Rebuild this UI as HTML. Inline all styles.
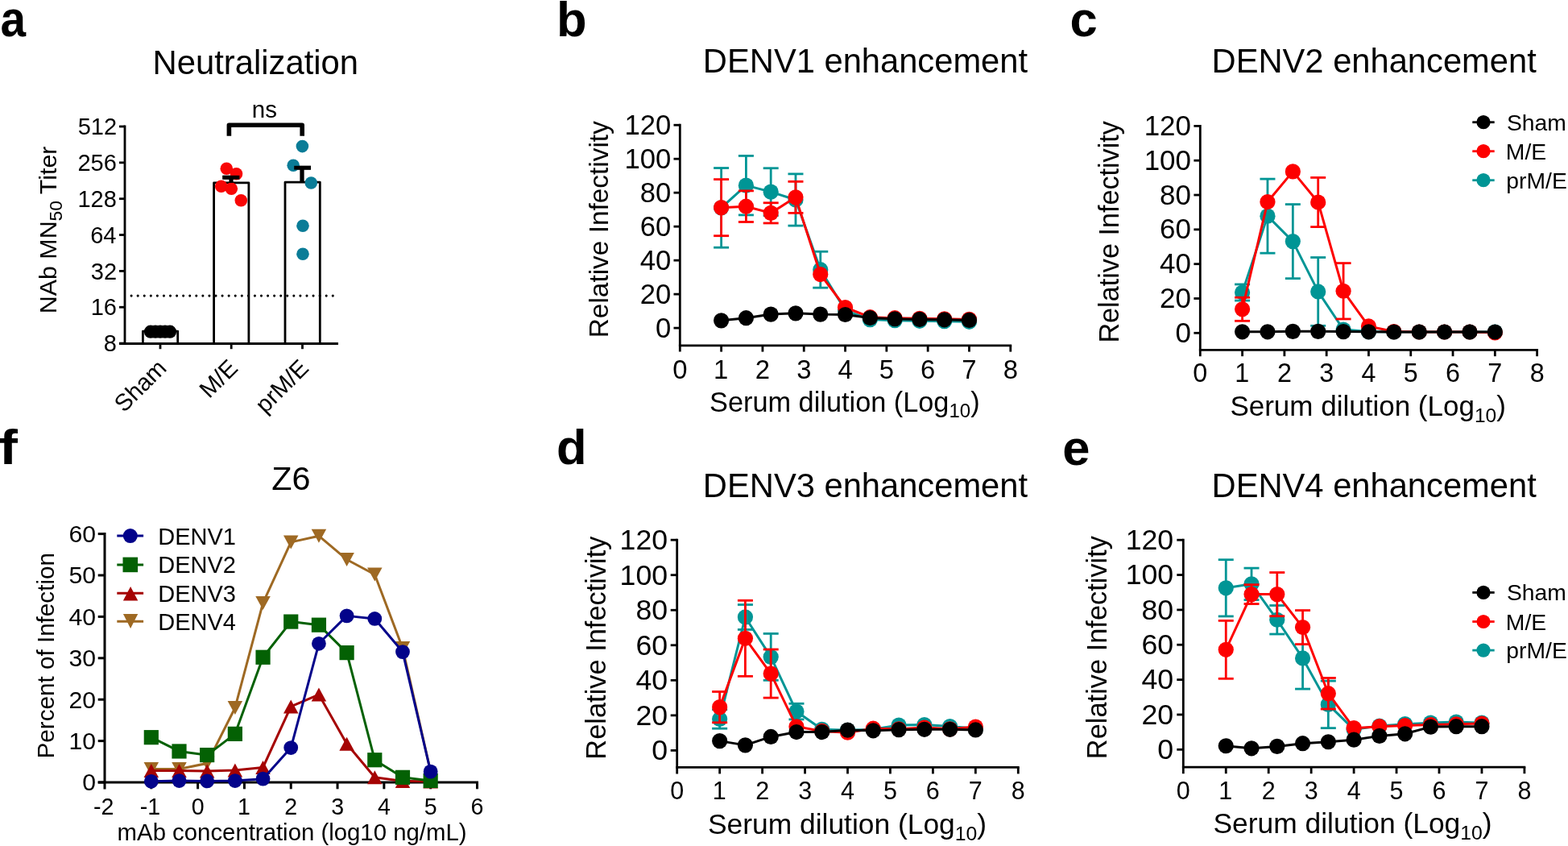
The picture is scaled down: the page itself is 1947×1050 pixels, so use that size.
<!DOCTYPE html>
<html><head><meta charset="utf-8"><style>html,body{margin:0;padding:0;background:#fff;overflow:hidden}svg{display:block}</style></head><body>
<svg width="1947" height="1050" viewBox="0 0 1947 1050" font-family="'Liberation Sans', Arial, sans-serif">
<rect width="1947" height="1050" fill="#fff"/>
<text x="0" y="0" font-size="63" font-weight="bold" transform="translate(0.6,45.4) scale(0.9,1)">a</text>
<text x="691.00" y="45.00" font-size="61.5" font-weight="bold">b</text>
<text x="1328.54" y="45.00" font-size="61.5" font-weight="bold">c</text>
<text x="691.04" y="576.00" font-size="61.5" font-weight="bold">d</text>
<text x="1319.34" y="576.50" font-size="61.5" font-weight="bold">e</text>
<text x="0" y="0" font-size="62" font-weight="bold" transform="translate(-1.2,576.4) scale(1.12,1)">f</text>
<text x="189.55" y="91.60" font-size="41.8">Neutralization</text>
<text x="872.86" y="89.60" font-size="41.7">DENV1 enhancement</text>
<text x="1504.56" y="89.60" font-size="41.7">DENV2 enhancement</text>
<text x="872.86" y="617.20" font-size="41.7">DENV3 enhancement</text>
<text x="1504.56" y="617.20" font-size="41.7">DENV4 enhancement</text>
<text x="337.26" y="608.40" font-size="41.3">Z6</text>
<line x1="155.00" y1="155.60" x2="155.00" y2="426.50" stroke="#000" stroke-width="2.8" stroke-linecap="butt"/>
<line x1="148.00" y1="426.10" x2="155.00" y2="426.10" stroke="#000" stroke-width="2.8" stroke-linecap="butt"/>
<text x="128.74" y="436.20" font-size="29.0">8</text>
<line x1="148.00" y1="381.25" x2="155.00" y2="381.25" stroke="#000" stroke-width="2.8" stroke-linecap="butt"/>
<text x="112.64" y="391.35" font-size="29.0">16</text>
<line x1="148.00" y1="336.40" x2="155.00" y2="336.40" stroke="#000" stroke-width="2.8" stroke-linecap="butt"/>
<text x="112.86" y="346.50" font-size="29.0">32</text>
<line x1="148.00" y1="291.55" x2="155.00" y2="291.55" stroke="#000" stroke-width="2.8" stroke-linecap="butt"/>
<text x="112.21" y="301.65" font-size="29.0">64</text>
<line x1="148.00" y1="246.70" x2="155.00" y2="246.70" stroke="#000" stroke-width="2.8" stroke-linecap="butt"/>
<text x="96.47" y="256.80" font-size="29.0">128</text>
<line x1="148.00" y1="201.85" x2="155.00" y2="201.85" stroke="#000" stroke-width="2.8" stroke-linecap="butt"/>
<text x="96.47" y="211.95" font-size="29.0">256</text>
<line x1="148.00" y1="157.00" x2="155.00" y2="157.00" stroke="#000" stroke-width="2.8" stroke-linecap="butt"/>
<text x="96.69" y="167.10" font-size="29.0">512</text>
<line x1="148.00" y1="426.50" x2="420.00" y2="426.50" stroke="#000" stroke-width="2.8" stroke-linecap="butt"/>
<line x1="199.00" y1="426.50" x2="199.00" y2="433.20" stroke="#000" stroke-width="2.8" stroke-linecap="butt"/>
<line x1="287.20" y1="426.50" x2="287.20" y2="433.20" stroke="#000" stroke-width="2.8" stroke-linecap="butt"/>
<line x1="375.50" y1="426.50" x2="375.50" y2="433.20" stroke="#000" stroke-width="2.8" stroke-linecap="butt"/>
<rect x="177.40" y="411.20" width="43.30" height="15.30" fill="#fff" stroke="#000" stroke-width="2.8" stroke-linejoin="round"/>
<rect x="265.60" y="226.80" width="43.30" height="199.70" fill="#fff" stroke="#000" stroke-width="2.8" stroke-linejoin="round"/>
<rect x="354.00" y="226.20" width="43.30" height="200.30" fill="#fff" stroke="#000" stroke-width="2.8" stroke-linejoin="round"/>
<line x1="163.1" y1="367.1" x2="416" y2="367.1" stroke="#000" stroke-width="3.1" stroke-linecap="round" stroke-dasharray="0 8.07"/>
<line x1="287.00" y1="226.80" x2="287.00" y2="220.20" stroke="#000" stroke-width="4.8" stroke-linecap="butt"/>
<line x1="276.40" y1="220.20" x2="297.40" y2="220.20" stroke="#000" stroke-width="4.8" stroke-linecap="butt"/>
<line x1="375.00" y1="226.20" x2="375.00" y2="208.20" stroke="#000" stroke-width="4.8" stroke-linecap="butt"/>
<line x1="365.20" y1="208.20" x2="386.00" y2="208.20" stroke="#000" stroke-width="4.8" stroke-linecap="butt"/>
<circle cx="281.30" cy="209.30" r="7.8" fill="#f80606"/>
<circle cx="293.50" cy="215.80" r="7.8" fill="#f80606"/>
<circle cx="274.70" cy="231.30" r="7.8" fill="#f80606"/>
<circle cx="287.30" cy="234.20" r="7.8" fill="#f80606"/>
<circle cx="299.30" cy="248.80" r="7.8" fill="#f80606"/>
<circle cx="375.40" cy="181.60" r="7.8" fill="#0a7c97"/>
<circle cx="364.20" cy="205.30" r="7.8" fill="#0a7c97"/>
<circle cx="386.30" cy="227.00" r="7.8" fill="#0a7c97"/>
<circle cx="376.00" cy="280.20" r="7.8" fill="#0a7c97"/>
<circle cx="376.00" cy="315.20" r="7.8" fill="#0a7c97"/>
<line x1="375.00" y1="226.20" x2="375.00" y2="208.20" stroke="#000" stroke-width="4.8" stroke-linecap="butt"/>
<line x1="365.20" y1="208.20" x2="386.00" y2="208.20" stroke="#000" stroke-width="4.8" stroke-linecap="butt"/>
<line x1="287.00" y1="226.80" x2="287.00" y2="220.20" stroke="#000" stroke-width="4.8" stroke-linecap="butt"/>
<line x1="276.40" y1="220.20" x2="297.40" y2="220.20" stroke="#000" stroke-width="4.8" stroke-linecap="butt"/>
<circle cx="187.00" cy="411.70" r="8.1" fill="#000"/>
<circle cx="193.00" cy="411.70" r="8.1" fill="#000"/>
<circle cx="199.00" cy="411.70" r="8.1" fill="#000"/>
<circle cx="205.00" cy="411.70" r="8.1" fill="#000"/>
<circle cx="211.00" cy="411.70" r="8.1" fill="#000"/>
<path d="M284.4,168.7 V155.2 H375.2 V168.7" fill="none" stroke="#000" stroke-width="5.6" stroke-linejoin="round"/>
<text x="312.81" y="145.50" font-size="29.5">ns</text>
<g transform="translate(70.0,389.21) rotate(-90)"><text x="0" y="0" font-size="30.4">NAb MN<tspan font-size="22.7" dy="6.7">50</tspan><tspan dy="-6.7"> Titer</tspan></text></g>
<text x="0" y="0" font-size="29.5" text-anchor="end" transform="translate(208.50,458.5) rotate(-45)">Sham</text>
<text x="0" y="0" font-size="29.5" text-anchor="end" transform="translate(296.80,458.5) rotate(-45)">M/E</text>
<text x="0" y="0" font-size="29.5" text-anchor="end" transform="translate(385.00,458.5) rotate(-45)">prM/E</text>
<line x1="844.30" y1="153.82" x2="844.30" y2="436.60" stroke="#000" stroke-width="2.8" stroke-linecap="butt"/>
<line x1="842.90" y1="428.80" x2="1256.18" y2="428.80" stroke="#000" stroke-width="2.8" stroke-linecap="butt"/>
<line x1="836.50" y1="407.10" x2="844.30" y2="407.10" stroke="#000" stroke-width="2.8" stroke-linecap="butt"/>
<text x="813.98" y="418.59" font-size="34.632">0</text>
<line x1="836.50" y1="365.12" x2="844.30" y2="365.12" stroke="#000" stroke-width="2.8" stroke-linecap="butt"/>
<text x="794.76" y="376.61" font-size="34.632">20</text>
<line x1="836.50" y1="323.14" x2="844.30" y2="323.14" stroke="#000" stroke-width="2.8" stroke-linecap="butt"/>
<text x="794.76" y="334.63" font-size="34.632">40</text>
<line x1="836.50" y1="281.16" x2="844.30" y2="281.16" stroke="#000" stroke-width="2.8" stroke-linecap="butt"/>
<text x="794.76" y="292.65" font-size="34.632">60</text>
<line x1="836.50" y1="239.18" x2="844.30" y2="239.18" stroke="#000" stroke-width="2.8" stroke-linecap="butt"/>
<text x="794.76" y="250.67" font-size="34.632">80</text>
<line x1="836.50" y1="197.20" x2="844.30" y2="197.20" stroke="#000" stroke-width="2.8" stroke-linecap="butt"/>
<text x="775.45" y="208.69" font-size="34.632">100</text>
<line x1="836.50" y1="155.22" x2="844.30" y2="155.22" stroke="#000" stroke-width="2.8" stroke-linecap="butt"/>
<text x="775.45" y="166.71" font-size="34.632">120</text>
<line x1="895.61" y1="428.80" x2="895.61" y2="436.60" stroke="#000" stroke-width="2.8" stroke-linecap="butt"/>
<line x1="946.92" y1="428.80" x2="946.92" y2="436.60" stroke="#000" stroke-width="2.8" stroke-linecap="butt"/>
<line x1="998.23" y1="428.80" x2="998.23" y2="436.60" stroke="#000" stroke-width="2.8" stroke-linecap="butt"/>
<line x1="1049.54" y1="428.80" x2="1049.54" y2="436.60" stroke="#000" stroke-width="2.8" stroke-linecap="butt"/>
<line x1="1100.85" y1="428.80" x2="1100.85" y2="436.60" stroke="#000" stroke-width="2.8" stroke-linecap="butt"/>
<line x1="1152.16" y1="428.80" x2="1152.16" y2="436.60" stroke="#000" stroke-width="2.8" stroke-linecap="butt"/>
<line x1="1203.47" y1="428.80" x2="1203.47" y2="436.60" stroke="#000" stroke-width="2.8" stroke-linecap="butt"/>
<line x1="1254.78" y1="428.80" x2="1254.78" y2="436.60" stroke="#000" stroke-width="2.8" stroke-linecap="butt"/>
<text x="835.16" y="470.30" font-size="32.8">0</text>
<text x="886.06" y="470.30" font-size="32.8">1</text>
<text x="937.82" y="470.30" font-size="32.8">2</text>
<text x="989.21" y="470.30" font-size="32.8">3</text>
<text x="1040.52" y="470.30" font-size="32.8">4</text>
<text x="1091.75" y="470.30" font-size="32.8">5</text>
<text x="1142.93" y="470.30" font-size="32.8">6</text>
<text x="1194.33" y="470.30" font-size="32.8">7</text>
<text x="1245.68" y="470.30" font-size="32.8">8</text>
<line x1="895.61" y1="208.53" x2="895.61" y2="307.19" stroke="#009595" stroke-width="2.8" stroke-linecap="butt"/>
<line x1="886.11" y1="208.53" x2="905.11" y2="208.53" stroke="#009595" stroke-width="2.8" stroke-linecap="butt"/>
<line x1="886.11" y1="307.19" x2="905.11" y2="307.19" stroke="#009595" stroke-width="2.8" stroke-linecap="butt"/>
<line x1="926.40" y1="193.42" x2="926.40" y2="266.89" stroke="#009595" stroke-width="2.8" stroke-linecap="butt"/>
<line x1="916.90" y1="193.42" x2="935.90" y2="193.42" stroke="#009595" stroke-width="2.8" stroke-linecap="butt"/>
<line x1="916.90" y1="266.89" x2="935.90" y2="266.89" stroke="#009595" stroke-width="2.8" stroke-linecap="butt"/>
<line x1="957.18" y1="208.74" x2="957.18" y2="267.52" stroke="#009595" stroke-width="2.8" stroke-linecap="butt"/>
<line x1="947.68" y1="208.74" x2="966.68" y2="208.74" stroke="#009595" stroke-width="2.8" stroke-linecap="butt"/>
<line x1="947.68" y1="267.52" x2="966.68" y2="267.52" stroke="#009595" stroke-width="2.8" stroke-linecap="butt"/>
<line x1="987.97" y1="215.88" x2="987.97" y2="280.11" stroke="#009595" stroke-width="2.8" stroke-linecap="butt"/>
<line x1="978.47" y1="215.88" x2="997.47" y2="215.88" stroke="#009595" stroke-width="2.8" stroke-linecap="butt"/>
<line x1="978.47" y1="280.11" x2="997.47" y2="280.11" stroke="#009595" stroke-width="2.8" stroke-linecap="butt"/>
<line x1="1018.75" y1="312.23" x2="1018.75" y2="357.14" stroke="#009595" stroke-width="2.8" stroke-linecap="butt"/>
<line x1="1009.25" y1="312.23" x2="1028.25" y2="312.23" stroke="#009595" stroke-width="2.8" stroke-linecap="butt"/>
<line x1="1009.25" y1="357.14" x2="1028.25" y2="357.14" stroke="#009595" stroke-width="2.8" stroke-linecap="butt"/>
<polyline points="895.61,257.86 926.40,230.15 957.18,238.13 987.97,248.00 1018.75,334.68 1049.54,385.06 1080.33,396.61 1111.11,397.65 1141.90,398.28 1172.68,398.70 1203.47,399.33" fill="none" stroke="#009595" stroke-width="3" stroke-linejoin="round"/>
<circle cx="895.61" cy="257.86" r="9.6" fill="#009595"/>
<circle cx="926.40" cy="230.15" r="9.6" fill="#009595"/>
<circle cx="957.18" cy="238.13" r="9.6" fill="#009595"/>
<circle cx="987.97" cy="248.00" r="9.6" fill="#009595"/>
<circle cx="1018.75" cy="334.68" r="9.6" fill="#009595"/>
<circle cx="1049.54" cy="385.06" r="9.6" fill="#009595"/>
<circle cx="1080.33" cy="396.61" r="9.6" fill="#009595"/>
<circle cx="1111.11" cy="397.65" r="9.6" fill="#009595"/>
<circle cx="1141.90" cy="398.28" r="9.6" fill="#009595"/>
<circle cx="1172.68" cy="398.70" r="9.6" fill="#009595"/>
<circle cx="1203.47" cy="399.33" r="9.6" fill="#009595"/>
<line x1="895.61" y1="222.60" x2="895.61" y2="292.70" stroke="#fd0000" stroke-width="2.8" stroke-linecap="butt"/>
<line x1="886.11" y1="222.60" x2="905.11" y2="222.60" stroke="#fd0000" stroke-width="2.8" stroke-linecap="butt"/>
<line x1="886.11" y1="292.70" x2="905.11" y2="292.70" stroke="#fd0000" stroke-width="2.8" stroke-linecap="butt"/>
<line x1="926.40" y1="236.87" x2="926.40" y2="275.49" stroke="#fd0000" stroke-width="2.8" stroke-linecap="butt"/>
<line x1="916.90" y1="236.87" x2="935.90" y2="236.87" stroke="#fd0000" stroke-width="2.8" stroke-linecap="butt"/>
<line x1="916.90" y1="275.49" x2="935.90" y2="275.49" stroke="#fd0000" stroke-width="2.8" stroke-linecap="butt"/>
<line x1="957.18" y1="251.77" x2="957.18" y2="276.96" stroke="#fd0000" stroke-width="2.8" stroke-linecap="butt"/>
<line x1="947.68" y1="251.77" x2="966.68" y2="251.77" stroke="#fd0000" stroke-width="2.8" stroke-linecap="butt"/>
<line x1="947.68" y1="276.96" x2="966.68" y2="276.96" stroke="#fd0000" stroke-width="2.8" stroke-linecap="butt"/>
<line x1="987.97" y1="225.33" x2="987.97" y2="264.37" stroke="#fd0000" stroke-width="2.8" stroke-linecap="butt"/>
<line x1="978.47" y1="225.33" x2="997.47" y2="225.33" stroke="#fd0000" stroke-width="2.8" stroke-linecap="butt"/>
<line x1="978.47" y1="264.37" x2="997.47" y2="264.37" stroke="#fd0000" stroke-width="2.8" stroke-linecap="butt"/>
<polyline points="895.61,257.65 926.40,256.18 957.18,264.37 987.97,244.85 1018.75,340.56 1049.54,381.49 1080.33,393.67 1111.11,394.72 1141.90,395.35 1172.68,395.77 1203.47,396.40" fill="none" stroke="#fd0000" stroke-width="3" stroke-linejoin="round"/>
<circle cx="895.61" cy="257.65" r="9.6" fill="#fd0000"/>
<circle cx="926.40" cy="256.18" r="9.6" fill="#fd0000"/>
<circle cx="957.18" cy="264.37" r="9.6" fill="#fd0000"/>
<circle cx="987.97" cy="244.85" r="9.6" fill="#fd0000"/>
<circle cx="1018.75" cy="340.56" r="9.6" fill="#fd0000"/>
<circle cx="1049.54" cy="381.49" r="9.6" fill="#fd0000"/>
<circle cx="1080.33" cy="393.67" r="9.6" fill="#fd0000"/>
<circle cx="1111.11" cy="394.72" r="9.6" fill="#fd0000"/>
<circle cx="1141.90" cy="395.35" r="9.6" fill="#fd0000"/>
<circle cx="1172.68" cy="395.77" r="9.6" fill="#fd0000"/>
<circle cx="1203.47" cy="396.40" r="9.6" fill="#fd0000"/>
<polyline points="895.61,397.86 926.40,394.72 957.18,390.10 987.97,388.84 1018.75,390.10 1049.54,390.52 1080.33,394.51 1111.11,395.77 1141.90,396.40 1172.68,396.81 1203.47,397.44" fill="none" stroke="#000000" stroke-width="3" stroke-linejoin="round"/>
<circle cx="895.61" cy="397.86" r="9.6" fill="#000000"/>
<circle cx="926.40" cy="394.72" r="9.6" fill="#000000"/>
<circle cx="957.18" cy="390.10" r="9.6" fill="#000000"/>
<circle cx="987.97" cy="388.84" r="9.6" fill="#000000"/>
<circle cx="1018.75" cy="390.10" r="9.6" fill="#000000"/>
<circle cx="1049.54" cy="390.52" r="9.6" fill="#000000"/>
<circle cx="1080.33" cy="394.51" r="9.6" fill="#000000"/>
<circle cx="1111.11" cy="395.77" r="9.6" fill="#000000"/>
<circle cx="1141.90" cy="396.40" r="9.6" fill="#000000"/>
<circle cx="1172.68" cy="396.81" r="9.6" fill="#000000"/>
<circle cx="1203.47" cy="397.44" r="9.6" fill="#000000"/>
<line x1="1490.30" y1="154.98" x2="1490.30" y2="442.20" stroke="#000" stroke-width="2.8" stroke-linecap="butt"/>
<line x1="1488.90" y1="434.30" x2="1910.02" y2="434.30" stroke="#000" stroke-width="2.8" stroke-linecap="butt"/>
<line x1="1482.40" y1="413.30" x2="1490.30" y2="413.30" stroke="#000" stroke-width="2.8" stroke-linecap="butt"/>
<text x="1459.52" y="424.89" font-size="34.944">0</text>
<line x1="1482.40" y1="370.48" x2="1490.30" y2="370.48" stroke="#000" stroke-width="2.8" stroke-linecap="butt"/>
<text x="1440.12" y="382.07" font-size="34.944">20</text>
<line x1="1482.40" y1="327.66" x2="1490.30" y2="327.66" stroke="#000" stroke-width="2.8" stroke-linecap="butt"/>
<text x="1440.12" y="339.25" font-size="34.944">40</text>
<line x1="1482.40" y1="284.84" x2="1490.30" y2="284.84" stroke="#000" stroke-width="2.8" stroke-linecap="butt"/>
<text x="1440.12" y="296.43" font-size="34.944">60</text>
<line x1="1482.40" y1="242.02" x2="1490.30" y2="242.02" stroke="#000" stroke-width="2.8" stroke-linecap="butt"/>
<text x="1440.12" y="253.61" font-size="34.944">80</text>
<line x1="1482.40" y1="199.20" x2="1490.30" y2="199.20" stroke="#000" stroke-width="2.8" stroke-linecap="butt"/>
<text x="1420.64" y="210.79" font-size="34.944">100</text>
<line x1="1482.40" y1="156.38" x2="1490.30" y2="156.38" stroke="#000" stroke-width="2.8" stroke-linecap="butt"/>
<text x="1420.64" y="167.97" font-size="34.944">120</text>
<line x1="1542.59" y1="434.30" x2="1542.59" y2="442.20" stroke="#000" stroke-width="2.8" stroke-linecap="butt"/>
<line x1="1594.88" y1="434.30" x2="1594.88" y2="442.20" stroke="#000" stroke-width="2.8" stroke-linecap="butt"/>
<line x1="1647.17" y1="434.30" x2="1647.17" y2="442.20" stroke="#000" stroke-width="2.8" stroke-linecap="butt"/>
<line x1="1699.46" y1="434.30" x2="1699.46" y2="442.20" stroke="#000" stroke-width="2.8" stroke-linecap="butt"/>
<line x1="1751.75" y1="434.30" x2="1751.75" y2="442.20" stroke="#000" stroke-width="2.8" stroke-linecap="butt"/>
<line x1="1804.04" y1="434.30" x2="1804.04" y2="442.20" stroke="#000" stroke-width="2.8" stroke-linecap="butt"/>
<line x1="1856.33" y1="434.30" x2="1856.33" y2="442.20" stroke="#000" stroke-width="2.8" stroke-linecap="butt"/>
<line x1="1908.62" y1="434.30" x2="1908.62" y2="442.20" stroke="#000" stroke-width="2.8" stroke-linecap="butt"/>
<text x="1481.30" y="474.00" font-size="32.3">0</text>
<text x="1533.18" y="474.00" font-size="32.3">1</text>
<text x="1585.92" y="474.00" font-size="32.3">2</text>
<text x="1638.29" y="474.00" font-size="32.3">3</text>
<text x="1690.58" y="474.00" font-size="32.3">4</text>
<text x="1742.79" y="474.00" font-size="32.3">5</text>
<text x="1794.96" y="474.00" font-size="32.3">6</text>
<text x="1847.33" y="474.00" font-size="32.3">7</text>
<text x="1899.66" y="474.00" font-size="32.3">8</text>
<line x1="1542.59" y1="352.92" x2="1542.59" y2="373.05" stroke="#009595" stroke-width="2.8" stroke-linecap="butt"/>
<line x1="1533.09" y1="352.92" x2="1552.09" y2="352.92" stroke="#009595" stroke-width="2.8" stroke-linecap="butt"/>
<line x1="1533.09" y1="373.05" x2="1552.09" y2="373.05" stroke="#009595" stroke-width="2.8" stroke-linecap="butt"/>
<line x1="1573.96" y1="222.11" x2="1573.96" y2="314.17" stroke="#009595" stroke-width="2.8" stroke-linecap="butt"/>
<line x1="1564.46" y1="222.11" x2="1583.46" y2="222.11" stroke="#009595" stroke-width="2.8" stroke-linecap="butt"/>
<line x1="1564.46" y1="314.17" x2="1583.46" y2="314.17" stroke="#009595" stroke-width="2.8" stroke-linecap="butt"/>
<line x1="1605.34" y1="253.58" x2="1605.34" y2="345.64" stroke="#009595" stroke-width="2.8" stroke-linecap="butt"/>
<line x1="1595.84" y1="253.58" x2="1614.84" y2="253.58" stroke="#009595" stroke-width="2.8" stroke-linecap="butt"/>
<line x1="1595.84" y1="345.64" x2="1614.84" y2="345.64" stroke="#009595" stroke-width="2.8" stroke-linecap="butt"/>
<line x1="1636.71" y1="319.52" x2="1636.71" y2="404.31" stroke="#009595" stroke-width="2.8" stroke-linecap="butt"/>
<line x1="1627.21" y1="319.52" x2="1646.21" y2="319.52" stroke="#009595" stroke-width="2.8" stroke-linecap="butt"/>
<line x1="1627.21" y1="404.31" x2="1646.21" y2="404.31" stroke="#009595" stroke-width="2.8" stroke-linecap="butt"/>
<polyline points="1542.59,362.99 1573.96,268.14 1605.34,299.61 1636.71,361.92 1668.09,409.02 1699.46,411.59 1730.83,412.02 1762.21,412.02 1793.58,412.02 1824.96,412.02 1856.33,412.02" fill="none" stroke="#009595" stroke-width="3" stroke-linejoin="round"/>
<circle cx="1542.59" cy="362.99" r="9.6" fill="#009595"/>
<circle cx="1573.96" cy="268.14" r="9.6" fill="#009595"/>
<circle cx="1605.34" cy="299.61" r="9.6" fill="#009595"/>
<circle cx="1636.71" cy="361.92" r="9.6" fill="#009595"/>
<circle cx="1668.09" cy="409.02" r="9.6" fill="#009595"/>
<circle cx="1699.46" cy="411.59" r="9.6" fill="#009595"/>
<circle cx="1730.83" cy="412.02" r="9.6" fill="#009595"/>
<circle cx="1762.21" cy="412.02" r="9.6" fill="#009595"/>
<circle cx="1793.58" cy="412.02" r="9.6" fill="#009595"/>
<circle cx="1824.96" cy="412.02" r="9.6" fill="#009595"/>
<circle cx="1856.33" cy="412.02" r="9.6" fill="#009595"/>
<line x1="1542.59" y1="369.20" x2="1542.59" y2="398.31" stroke="#fd0000" stroke-width="2.8" stroke-linecap="butt"/>
<line x1="1533.09" y1="369.20" x2="1552.09" y2="369.20" stroke="#fd0000" stroke-width="2.8" stroke-linecap="butt"/>
<line x1="1533.09" y1="398.31" x2="1552.09" y2="398.31" stroke="#fd0000" stroke-width="2.8" stroke-linecap="butt"/>
<line x1="1636.71" y1="220.40" x2="1636.71" y2="281.63" stroke="#fd0000" stroke-width="2.8" stroke-linecap="butt"/>
<line x1="1627.21" y1="220.40" x2="1646.21" y2="220.40" stroke="#fd0000" stroke-width="2.8" stroke-linecap="butt"/>
<line x1="1627.21" y1="281.63" x2="1646.21" y2="281.63" stroke="#fd0000" stroke-width="2.8" stroke-linecap="butt"/>
<line x1="1668.09" y1="326.59" x2="1668.09" y2="395.96" stroke="#fd0000" stroke-width="2.8" stroke-linecap="butt"/>
<line x1="1658.59" y1="326.59" x2="1677.59" y2="326.59" stroke="#fd0000" stroke-width="2.8" stroke-linecap="butt"/>
<line x1="1658.59" y1="395.96" x2="1677.59" y2="395.96" stroke="#fd0000" stroke-width="2.8" stroke-linecap="butt"/>
<polyline points="1542.59,383.75 1573.96,250.58 1605.34,212.90 1636.71,251.01 1668.09,361.27 1699.46,404.95 1730.83,411.59 1762.21,412.02 1793.58,412.02 1824.96,412.02 1856.33,412.87" fill="none" stroke="#fd0000" stroke-width="3" stroke-linejoin="round"/>
<circle cx="1542.59" cy="383.75" r="9.6" fill="#fd0000"/>
<circle cx="1573.96" cy="250.58" r="9.6" fill="#fd0000"/>
<circle cx="1605.34" cy="212.90" r="9.6" fill="#fd0000"/>
<circle cx="1636.71" cy="251.01" r="9.6" fill="#fd0000"/>
<circle cx="1668.09" cy="361.27" r="9.6" fill="#fd0000"/>
<circle cx="1699.46" cy="404.95" r="9.6" fill="#fd0000"/>
<circle cx="1730.83" cy="411.59" r="9.6" fill="#fd0000"/>
<circle cx="1762.21" cy="412.02" r="9.6" fill="#fd0000"/>
<circle cx="1793.58" cy="412.02" r="9.6" fill="#fd0000"/>
<circle cx="1824.96" cy="412.02" r="9.6" fill="#fd0000"/>
<circle cx="1856.33" cy="412.87" r="9.6" fill="#fd0000"/>
<polyline points="1542.59,411.80 1573.96,411.80 1605.34,411.37 1636.71,411.37 1668.09,411.59 1699.46,411.80 1730.83,412.02 1762.21,412.02 1793.58,412.02 1824.96,412.02 1856.33,412.02" fill="none" stroke="#000000" stroke-width="3" stroke-linejoin="round"/>
<circle cx="1542.59" cy="411.80" r="9.6" fill="#000000"/>
<circle cx="1573.96" cy="411.80" r="9.6" fill="#000000"/>
<circle cx="1605.34" cy="411.37" r="9.6" fill="#000000"/>
<circle cx="1636.71" cy="411.37" r="9.6" fill="#000000"/>
<circle cx="1668.09" cy="411.59" r="9.6" fill="#000000"/>
<circle cx="1699.46" cy="411.80" r="9.6" fill="#000000"/>
<circle cx="1730.83" cy="412.02" r="9.6" fill="#000000"/>
<circle cx="1762.21" cy="412.02" r="9.6" fill="#000000"/>
<circle cx="1793.58" cy="412.02" r="9.6" fill="#000000"/>
<circle cx="1824.96" cy="412.02" r="9.6" fill="#000000"/>
<circle cx="1856.33" cy="412.02" r="9.6" fill="#000000"/>
<line x1="840.70" y1="668.76" x2="840.70" y2="960.40" stroke="#000" stroke-width="2.8" stroke-linecap="butt"/>
<line x1="839.30" y1="952.40" x2="1265.70" y2="952.40" stroke="#000" stroke-width="2.8" stroke-linecap="butt"/>
<line x1="832.70" y1="931.40" x2="840.70" y2="931.40" stroke="#000" stroke-width="2.8" stroke-linecap="butt"/>
<text x="809.24" y="943.23" font-size="35.672">0</text>
<line x1="832.70" y1="887.86" x2="840.70" y2="887.86" stroke="#000" stroke-width="2.8" stroke-linecap="butt"/>
<text x="789.44" y="899.69" font-size="35.672">20</text>
<line x1="832.70" y1="844.32" x2="840.70" y2="844.32" stroke="#000" stroke-width="2.8" stroke-linecap="butt"/>
<text x="789.44" y="856.15" font-size="35.672">40</text>
<line x1="832.70" y1="800.78" x2="840.70" y2="800.78" stroke="#000" stroke-width="2.8" stroke-linecap="butt"/>
<text x="789.44" y="812.61" font-size="35.672">60</text>
<line x1="832.70" y1="757.24" x2="840.70" y2="757.24" stroke="#000" stroke-width="2.8" stroke-linecap="butt"/>
<text x="789.44" y="769.07" font-size="35.672">80</text>
<line x1="832.70" y1="713.70" x2="840.70" y2="713.70" stroke="#000" stroke-width="2.8" stroke-linecap="butt"/>
<text x="769.55" y="725.53" font-size="35.672">100</text>
<line x1="832.70" y1="670.16" x2="840.70" y2="670.16" stroke="#000" stroke-width="2.8" stroke-linecap="butt"/>
<text x="769.55" y="681.99" font-size="35.672">120</text>
<line x1="893.65" y1="952.40" x2="893.65" y2="960.40" stroke="#000" stroke-width="2.8" stroke-linecap="butt"/>
<line x1="946.60" y1="952.40" x2="946.60" y2="960.40" stroke="#000" stroke-width="2.8" stroke-linecap="butt"/>
<line x1="999.55" y1="952.40" x2="999.55" y2="960.40" stroke="#000" stroke-width="2.8" stroke-linecap="butt"/>
<line x1="1052.50" y1="952.40" x2="1052.50" y2="960.40" stroke="#000" stroke-width="2.8" stroke-linecap="butt"/>
<line x1="1105.45" y1="952.40" x2="1105.45" y2="960.40" stroke="#000" stroke-width="2.8" stroke-linecap="butt"/>
<line x1="1158.40" y1="952.40" x2="1158.40" y2="960.40" stroke="#000" stroke-width="2.8" stroke-linecap="butt"/>
<line x1="1211.35" y1="952.40" x2="1211.35" y2="960.40" stroke="#000" stroke-width="2.8" stroke-linecap="butt"/>
<line x1="1264.30" y1="952.40" x2="1264.30" y2="960.40" stroke="#000" stroke-width="2.8" stroke-linecap="butt"/>
<text x="832.20" y="992.20" font-size="30.5">0</text>
<text x="884.77" y="992.20" font-size="30.5">1</text>
<text x="938.14" y="992.20" font-size="30.5">2</text>
<text x="991.16" y="992.20" font-size="30.5">3</text>
<text x="1044.11" y="992.20" font-size="30.5">4</text>
<text x="1096.99" y="992.20" font-size="30.5">5</text>
<text x="1149.82" y="992.20" font-size="30.5">6</text>
<text x="1202.85" y="992.20" font-size="30.5">7</text>
<text x="1255.84" y="992.20" font-size="30.5">8</text>
<line x1="893.65" y1="880.68" x2="893.65" y2="904.19" stroke="#009595" stroke-width="2.8" stroke-linecap="butt"/>
<line x1="884.15" y1="880.68" x2="903.15" y2="880.68" stroke="#009595" stroke-width="2.8" stroke-linecap="butt"/>
<line x1="884.15" y1="904.19" x2="903.15" y2="904.19" stroke="#009595" stroke-width="2.8" stroke-linecap="butt"/>
<line x1="925.42" y1="750.49" x2="925.42" y2="781.40" stroke="#009595" stroke-width="2.8" stroke-linecap="butt"/>
<line x1="915.92" y1="750.49" x2="934.92" y2="750.49" stroke="#009595" stroke-width="2.8" stroke-linecap="butt"/>
<line x1="915.92" y1="781.40" x2="934.92" y2="781.40" stroke="#009595" stroke-width="2.8" stroke-linecap="butt"/>
<line x1="957.19" y1="786.41" x2="957.19" y2="844.32" stroke="#009595" stroke-width="2.8" stroke-linecap="butt"/>
<line x1="947.69" y1="786.41" x2="966.69" y2="786.41" stroke="#009595" stroke-width="2.8" stroke-linecap="butt"/>
<line x1="947.69" y1="844.32" x2="966.69" y2="844.32" stroke="#009595" stroke-width="2.8" stroke-linecap="butt"/>
<line x1="988.96" y1="873.27" x2="988.96" y2="892.87" stroke="#009595" stroke-width="2.8" stroke-linecap="butt"/>
<line x1="979.46" y1="873.27" x2="998.46" y2="873.27" stroke="#009595" stroke-width="2.8" stroke-linecap="butt"/>
<line x1="979.46" y1="892.87" x2="998.46" y2="892.87" stroke="#009595" stroke-width="2.8" stroke-linecap="butt"/>
<polyline points="893.65,892.43 925.42,765.95 957.19,815.37 988.96,883.07 1020.73,905.28 1052.50,906.36 1084.27,905.28 1116.04,900.05 1147.81,899.62 1179.58,901.58 1211.35,904.19" fill="none" stroke="#009595" stroke-width="3" stroke-linejoin="round"/>
<circle cx="893.65" cy="892.43" r="9.6" fill="#009595"/>
<circle cx="925.42" cy="765.95" r="9.6" fill="#009595"/>
<circle cx="957.19" cy="815.37" r="9.6" fill="#009595"/>
<circle cx="988.96" cy="883.07" r="9.6" fill="#009595"/>
<circle cx="1020.73" cy="905.28" r="9.6" fill="#009595"/>
<circle cx="1052.50" cy="906.36" r="9.6" fill="#009595"/>
<circle cx="1084.27" cy="905.28" r="9.6" fill="#009595"/>
<circle cx="1116.04" cy="900.05" r="9.6" fill="#009595"/>
<circle cx="1147.81" cy="899.62" r="9.6" fill="#009595"/>
<circle cx="1179.58" cy="901.58" r="9.6" fill="#009595"/>
<circle cx="1211.35" cy="904.19" r="9.6" fill="#009595"/>
<line x1="893.65" y1="858.47" x2="893.65" y2="896.79" stroke="#fd0000" stroke-width="2.8" stroke-linecap="butt"/>
<line x1="884.15" y1="858.47" x2="903.15" y2="858.47" stroke="#fd0000" stroke-width="2.8" stroke-linecap="butt"/>
<line x1="884.15" y1="896.79" x2="903.15" y2="896.79" stroke="#fd0000" stroke-width="2.8" stroke-linecap="butt"/>
<line x1="925.42" y1="745.27" x2="925.42" y2="839.31" stroke="#fd0000" stroke-width="2.8" stroke-linecap="butt"/>
<line x1="915.92" y1="745.27" x2="934.92" y2="745.27" stroke="#fd0000" stroke-width="2.8" stroke-linecap="butt"/>
<line x1="915.92" y1="839.31" x2="934.92" y2="839.31" stroke="#fd0000" stroke-width="2.8" stroke-linecap="butt"/>
<line x1="957.19" y1="806.00" x2="957.19" y2="866.09" stroke="#fd0000" stroke-width="2.8" stroke-linecap="butt"/>
<line x1="947.69" y1="806.00" x2="966.69" y2="806.00" stroke="#fd0000" stroke-width="2.8" stroke-linecap="butt"/>
<line x1="947.69" y1="866.09" x2="966.69" y2="866.09" stroke="#fd0000" stroke-width="2.8" stroke-linecap="butt"/>
<polyline points="893.65,877.63 925.42,792.29 957.19,836.05 988.96,901.79 1020.73,907.45 1052.50,909.19 1084.27,904.19 1116.04,904.84 1147.81,903.10 1179.58,904.84 1211.35,902.01" fill="none" stroke="#fd0000" stroke-width="3" stroke-linejoin="round"/>
<circle cx="893.65" cy="877.63" r="9.6" fill="#fd0000"/>
<circle cx="925.42" cy="792.29" r="9.6" fill="#fd0000"/>
<circle cx="957.19" cy="836.05" r="9.6" fill="#fd0000"/>
<circle cx="988.96" cy="901.79" r="9.6" fill="#fd0000"/>
<circle cx="1020.73" cy="907.45" r="9.6" fill="#fd0000"/>
<circle cx="1052.50" cy="909.19" r="9.6" fill="#fd0000"/>
<circle cx="1084.27" cy="904.19" r="9.6" fill="#fd0000"/>
<circle cx="1116.04" cy="904.84" r="9.6" fill="#fd0000"/>
<circle cx="1147.81" cy="903.10" r="9.6" fill="#fd0000"/>
<circle cx="1179.58" cy="904.84" r="9.6" fill="#fd0000"/>
<circle cx="1211.35" cy="902.01" r="9.6" fill="#fd0000"/>
<polyline points="893.65,919.64 925.42,924.87 957.19,914.42 988.96,908.54 1020.73,908.54 1052.50,906.15 1084.27,906.80 1116.04,905.71 1147.81,905.28 1179.58,905.28 1211.35,905.93" fill="none" stroke="#000000" stroke-width="3" stroke-linejoin="round"/>
<circle cx="893.65" cy="919.64" r="9.6" fill="#000000"/>
<circle cx="925.42" cy="924.87" r="9.6" fill="#000000"/>
<circle cx="957.19" cy="914.42" r="9.6" fill="#000000"/>
<circle cx="988.96" cy="908.54" r="9.6" fill="#000000"/>
<circle cx="1020.73" cy="908.54" r="9.6" fill="#000000"/>
<circle cx="1052.50" cy="906.15" r="9.6" fill="#000000"/>
<circle cx="1084.27" cy="906.80" r="9.6" fill="#000000"/>
<circle cx="1116.04" cy="905.71" r="9.6" fill="#000000"/>
<circle cx="1147.81" cy="905.28" r="9.6" fill="#000000"/>
<circle cx="1179.58" cy="905.28" r="9.6" fill="#000000"/>
<circle cx="1211.35" cy="905.93" r="9.6" fill="#000000"/>
<line x1="1469.30" y1="668.80" x2="1469.30" y2="960.20" stroke="#000" stroke-width="2.8" stroke-linecap="butt"/>
<line x1="1467.90" y1="952.20" x2="1894.30" y2="952.20" stroke="#000" stroke-width="2.8" stroke-linecap="butt"/>
<line x1="1461.30" y1="930.30" x2="1469.30" y2="930.30" stroke="#000" stroke-width="2.8" stroke-linecap="butt"/>
<text x="1437.34" y="942.13" font-size="35.672">0</text>
<line x1="1461.30" y1="886.95" x2="1469.30" y2="886.95" stroke="#000" stroke-width="2.8" stroke-linecap="butt"/>
<text x="1417.54" y="898.78" font-size="35.672">20</text>
<line x1="1461.30" y1="843.60" x2="1469.30" y2="843.60" stroke="#000" stroke-width="2.8" stroke-linecap="butt"/>
<text x="1417.54" y="855.43" font-size="35.672">40</text>
<line x1="1461.30" y1="800.25" x2="1469.30" y2="800.25" stroke="#000" stroke-width="2.8" stroke-linecap="butt"/>
<text x="1417.54" y="812.08" font-size="35.672">60</text>
<line x1="1461.30" y1="756.90" x2="1469.30" y2="756.90" stroke="#000" stroke-width="2.8" stroke-linecap="butt"/>
<text x="1417.54" y="768.73" font-size="35.672">80</text>
<line x1="1461.30" y1="713.55" x2="1469.30" y2="713.55" stroke="#000" stroke-width="2.8" stroke-linecap="butt"/>
<text x="1397.65" y="725.38" font-size="35.672">100</text>
<line x1="1461.30" y1="670.20" x2="1469.30" y2="670.20" stroke="#000" stroke-width="2.8" stroke-linecap="butt"/>
<text x="1397.65" y="682.03" font-size="35.672">120</text>
<line x1="1522.25" y1="952.20" x2="1522.25" y2="960.20" stroke="#000" stroke-width="2.8" stroke-linecap="butt"/>
<line x1="1575.20" y1="952.20" x2="1575.20" y2="960.20" stroke="#000" stroke-width="2.8" stroke-linecap="butt"/>
<line x1="1628.15" y1="952.20" x2="1628.15" y2="960.20" stroke="#000" stroke-width="2.8" stroke-linecap="butt"/>
<line x1="1681.10" y1="952.20" x2="1681.10" y2="960.20" stroke="#000" stroke-width="2.8" stroke-linecap="butt"/>
<line x1="1734.05" y1="952.20" x2="1734.05" y2="960.20" stroke="#000" stroke-width="2.8" stroke-linecap="butt"/>
<line x1="1787.00" y1="952.20" x2="1787.00" y2="960.20" stroke="#000" stroke-width="2.8" stroke-linecap="butt"/>
<line x1="1839.95" y1="952.20" x2="1839.95" y2="960.20" stroke="#000" stroke-width="2.8" stroke-linecap="butt"/>
<line x1="1892.90" y1="952.20" x2="1892.90" y2="960.20" stroke="#000" stroke-width="2.8" stroke-linecap="butt"/>
<text x="1460.80" y="991.80" font-size="30.5">0</text>
<text x="1513.37" y="991.80" font-size="30.5">1</text>
<text x="1566.74" y="991.80" font-size="30.5">2</text>
<text x="1619.76" y="991.80" font-size="30.5">3</text>
<text x="1672.71" y="991.80" font-size="30.5">4</text>
<text x="1725.59" y="991.80" font-size="30.5">5</text>
<text x="1778.42" y="991.80" font-size="30.5">6</text>
<text x="1831.45" y="991.80" font-size="30.5">7</text>
<text x="1884.44" y="991.80" font-size="30.5">8</text>
<line x1="1522.25" y1="694.69" x2="1522.25" y2="764.92" stroke="#009595" stroke-width="2.8" stroke-linecap="butt"/>
<line x1="1512.75" y1="694.69" x2="1531.75" y2="694.69" stroke="#009595" stroke-width="2.8" stroke-linecap="butt"/>
<line x1="1512.75" y1="764.92" x2="1531.75" y2="764.92" stroke="#009595" stroke-width="2.8" stroke-linecap="butt"/>
<line x1="1554.02" y1="705.10" x2="1554.02" y2="744.55" stroke="#009595" stroke-width="2.8" stroke-linecap="butt"/>
<line x1="1544.52" y1="705.10" x2="1563.52" y2="705.10" stroke="#009595" stroke-width="2.8" stroke-linecap="butt"/>
<line x1="1544.52" y1="744.55" x2="1563.52" y2="744.55" stroke="#009595" stroke-width="2.8" stroke-linecap="butt"/>
<line x1="1585.79" y1="751.48" x2="1585.79" y2="787.03" stroke="#009595" stroke-width="2.8" stroke-linecap="butt"/>
<line x1="1576.29" y1="751.48" x2="1595.29" y2="751.48" stroke="#009595" stroke-width="2.8" stroke-linecap="butt"/>
<line x1="1576.29" y1="787.03" x2="1595.29" y2="787.03" stroke="#009595" stroke-width="2.8" stroke-linecap="butt"/>
<line x1="1617.56" y1="778.79" x2="1617.56" y2="855.09" stroke="#009595" stroke-width="2.8" stroke-linecap="butt"/>
<line x1="1608.06" y1="778.79" x2="1627.06" y2="778.79" stroke="#009595" stroke-width="2.8" stroke-linecap="butt"/>
<line x1="1608.06" y1="855.09" x2="1627.06" y2="855.09" stroke="#009595" stroke-width="2.8" stroke-linecap="butt"/>
<line x1="1649.33" y1="845.12" x2="1649.33" y2="903.64" stroke="#009595" stroke-width="2.8" stroke-linecap="butt"/>
<line x1="1639.83" y1="845.12" x2="1658.83" y2="845.12" stroke="#009595" stroke-width="2.8" stroke-linecap="butt"/>
<line x1="1639.83" y1="903.64" x2="1658.83" y2="903.64" stroke="#009595" stroke-width="2.8" stroke-linecap="butt"/>
<polyline points="1522.25,729.81 1554.02,724.82 1585.79,769.25 1617.56,816.94 1649.33,874.38 1681.10,905.37 1712.87,901.04 1744.64,898.65 1776.41,897.14 1808.18,896.05 1839.95,897.14" fill="none" stroke="#009595" stroke-width="3" stroke-linejoin="round"/>
<circle cx="1522.25" cy="729.81" r="9.6" fill="#009595"/>
<circle cx="1554.02" cy="724.82" r="9.6" fill="#009595"/>
<circle cx="1585.79" cy="769.25" r="9.6" fill="#009595"/>
<circle cx="1617.56" cy="816.94" r="9.6" fill="#009595"/>
<circle cx="1649.33" cy="874.38" r="9.6" fill="#009595"/>
<circle cx="1681.10" cy="905.37" r="9.6" fill="#009595"/>
<circle cx="1712.87" cy="901.04" r="9.6" fill="#009595"/>
<circle cx="1744.64" cy="898.65" r="9.6" fill="#009595"/>
<circle cx="1776.41" cy="897.14" r="9.6" fill="#009595"/>
<circle cx="1808.18" cy="896.05" r="9.6" fill="#009595"/>
<circle cx="1839.95" cy="897.14" r="9.6" fill="#009595"/>
<line x1="1522.25" y1="770.34" x2="1522.25" y2="842.30" stroke="#fd0000" stroke-width="2.8" stroke-linecap="butt"/>
<line x1="1512.75" y1="770.34" x2="1531.75" y2="770.34" stroke="#fd0000" stroke-width="2.8" stroke-linecap="butt"/>
<line x1="1512.75" y1="842.30" x2="1531.75" y2="842.30" stroke="#fd0000" stroke-width="2.8" stroke-linecap="butt"/>
<line x1="1554.02" y1="725.69" x2="1554.02" y2="749.53" stroke="#fd0000" stroke-width="2.8" stroke-linecap="butt"/>
<line x1="1544.52" y1="725.69" x2="1563.52" y2="725.69" stroke="#fd0000" stroke-width="2.8" stroke-linecap="butt"/>
<line x1="1544.52" y1="749.53" x2="1563.52" y2="749.53" stroke="#fd0000" stroke-width="2.8" stroke-linecap="butt"/>
<line x1="1585.79" y1="710.52" x2="1585.79" y2="764.70" stroke="#fd0000" stroke-width="2.8" stroke-linecap="butt"/>
<line x1="1576.29" y1="710.52" x2="1595.29" y2="710.52" stroke="#fd0000" stroke-width="2.8" stroke-linecap="butt"/>
<line x1="1576.29" y1="764.70" x2="1595.29" y2="764.70" stroke="#fd0000" stroke-width="2.8" stroke-linecap="butt"/>
<line x1="1617.56" y1="757.55" x2="1617.56" y2="799.60" stroke="#fd0000" stroke-width="2.8" stroke-linecap="butt"/>
<line x1="1608.06" y1="757.55" x2="1627.06" y2="757.55" stroke="#fd0000" stroke-width="2.8" stroke-linecap="butt"/>
<line x1="1608.06" y1="799.60" x2="1627.06" y2="799.60" stroke="#fd0000" stroke-width="2.8" stroke-linecap="butt"/>
<line x1="1649.33" y1="841.43" x2="1649.33" y2="880.01" stroke="#fd0000" stroke-width="2.8" stroke-linecap="butt"/>
<line x1="1639.83" y1="841.43" x2="1658.83" y2="841.43" stroke="#fd0000" stroke-width="2.8" stroke-linecap="butt"/>
<line x1="1639.83" y1="880.01" x2="1658.83" y2="880.01" stroke="#fd0000" stroke-width="2.8" stroke-linecap="butt"/>
<polyline points="1522.25,806.32 1554.02,737.61 1585.79,737.61 1617.56,778.57 1649.33,860.72 1681.10,903.64 1712.87,901.69 1744.64,900.61 1776.41,899.52 1808.18,898.87 1839.95,898.00" fill="none" stroke="#fd0000" stroke-width="3" stroke-linejoin="round"/>
<circle cx="1522.25" cy="806.32" r="9.6" fill="#fd0000"/>
<circle cx="1554.02" cy="737.61" r="9.6" fill="#fd0000"/>
<circle cx="1585.79" cy="737.61" r="9.6" fill="#fd0000"/>
<circle cx="1617.56" cy="778.57" r="9.6" fill="#fd0000"/>
<circle cx="1649.33" cy="860.72" r="9.6" fill="#fd0000"/>
<circle cx="1681.10" cy="903.64" r="9.6" fill="#fd0000"/>
<circle cx="1712.87" cy="901.69" r="9.6" fill="#fd0000"/>
<circle cx="1744.64" cy="900.61" r="9.6" fill="#fd0000"/>
<circle cx="1776.41" cy="899.52" r="9.6" fill="#fd0000"/>
<circle cx="1808.18" cy="898.87" r="9.6" fill="#fd0000"/>
<circle cx="1839.95" cy="898.00" r="9.6" fill="#fd0000"/>
<polyline points="1522.25,925.75 1554.02,928.78 1585.79,926.40 1617.56,922.71 1649.33,920.76 1681.10,918.16 1712.87,913.39 1744.64,910.79 1776.41,902.12 1808.18,901.69 1839.95,901.69" fill="none" stroke="#000000" stroke-width="3" stroke-linejoin="round"/>
<circle cx="1522.25" cy="925.75" r="9.6" fill="#000000"/>
<circle cx="1554.02" cy="928.78" r="9.6" fill="#000000"/>
<circle cx="1585.79" cy="926.40" r="9.6" fill="#000000"/>
<circle cx="1617.56" cy="922.71" r="9.6" fill="#000000"/>
<circle cx="1649.33" cy="920.76" r="9.6" fill="#000000"/>
<circle cx="1681.10" cy="918.16" r="9.6" fill="#000000"/>
<circle cx="1712.87" cy="913.39" r="9.6" fill="#000000"/>
<circle cx="1744.64" cy="910.79" r="9.6" fill="#000000"/>
<circle cx="1776.41" cy="902.12" r="9.6" fill="#000000"/>
<circle cx="1808.18" cy="901.69" r="9.6" fill="#000000"/>
<circle cx="1839.95" cy="901.69" r="9.6" fill="#000000"/>
<g transform="translate(754.50,419.26) rotate(-90)"><text x="0" y="0" font-size="33.4">Relative Infectivity</text></g>
<g transform="translate(1388.50,425.62) rotate(-90)"><text x="0" y="0" font-size="34.2">Relative Infectivity</text></g>
<g transform="translate(752.00,942.64) rotate(-90)"><text x="0" y="0" font-size="34.4">Relative Infectivity</text></g>
<g transform="translate(1374.40,942.14) rotate(-90)"><text x="0" y="0" font-size="34.4">Relative Infectivity</text></g>
<text x="881.06" y="510.60" font-size="34.3">Serum dilution (Log<tspan font-size="24.01" dy="7.55">10</tspan><tspan dy="-7.55">)</tspan></text>
<text x="1527.42" y="515.80" font-size="35.0">Serum dilution (Log<tspan font-size="24.50" dy="7.70">10</tspan><tspan dy="-7.70">)</tspan></text>
<text x="878.91" y="1034.80" font-size="35.4">Serum dilution (Log<tspan font-size="24.78" dy="7.79">10</tspan><tspan dy="-7.79">)</tspan></text>
<text x="1506.41" y="1034.00" font-size="35.4">Serum dilution (Log<tspan font-size="24.78" dy="7.79">10</tspan><tspan dy="-7.79">)</tspan></text>
<line x1="1828.30" y1="151.70" x2="1855.70" y2="151.70" stroke="#000000" stroke-width="2.8" stroke-linecap="butt"/>
<circle cx="1842.00" cy="151.70" r="8.6" fill="#000000"/>
<text x="1870.93" y="161.75" font-size="28.3">Sham</text>
<line x1="1828.30" y1="187.70" x2="1855.70" y2="187.70" stroke="#fd0000" stroke-width="2.8" stroke-linecap="butt"/>
<circle cx="1842.00" cy="187.70" r="8.6" fill="#fd0000"/>
<text x="1869.87" y="197.75" font-size="28.3">M/E</text>
<line x1="1828.30" y1="223.70" x2="1855.70" y2="223.70" stroke="#009595" stroke-width="2.8" stroke-linecap="butt"/>
<circle cx="1842.00" cy="223.70" r="8.6" fill="#009595"/>
<text x="1870.36" y="233.75" font-size="28.3">prM/E</text>
<line x1="1828.30" y1="735.40" x2="1855.70" y2="735.40" stroke="#000000" stroke-width="2.8" stroke-linecap="butt"/>
<circle cx="1842.00" cy="735.40" r="8.6" fill="#000000"/>
<text x="1870.93" y="745.45" font-size="28.3">Sham</text>
<line x1="1828.30" y1="771.50" x2="1855.70" y2="771.50" stroke="#fd0000" stroke-width="2.8" stroke-linecap="butt"/>
<circle cx="1842.00" cy="771.50" r="8.6" fill="#fd0000"/>
<text x="1869.87" y="781.55" font-size="28.3">M/E</text>
<line x1="1828.30" y1="807.10" x2="1855.70" y2="807.10" stroke="#009595" stroke-width="2.8" stroke-linecap="butt"/>
<circle cx="1842.00" cy="807.10" r="8.6" fill="#009595"/>
<text x="1870.36" y="817.15" font-size="28.3">prM/E</text>
<line x1="130.00" y1="661.10" x2="130.00" y2="979.50" stroke="#000" stroke-width="3.0" stroke-linecap="butt"/>
<line x1="121.70" y1="971.00" x2="593.98" y2="971.00" stroke="#000" stroke-width="3.0" stroke-linecap="butt"/>
<line x1="121.70" y1="971.00" x2="130.00" y2="971.00" stroke="#000" stroke-width="3.0" stroke-linecap="butt"/>
<text x="102.17" y="981.35" font-size="30.2">0</text>
<line x1="121.70" y1="919.60" x2="130.00" y2="919.60" stroke="#000" stroke-width="3.0" stroke-linecap="butt"/>
<text x="85.41" y="929.95" font-size="30.2">10</text>
<line x1="121.70" y1="868.20" x2="130.00" y2="868.20" stroke="#000" stroke-width="3.0" stroke-linecap="butt"/>
<text x="85.41" y="878.55" font-size="30.2">20</text>
<line x1="121.70" y1="816.80" x2="130.00" y2="816.80" stroke="#000" stroke-width="3.0" stroke-linecap="butt"/>
<text x="85.41" y="827.15" font-size="30.2">30</text>
<line x1="121.70" y1="765.40" x2="130.00" y2="765.40" stroke="#000" stroke-width="3.0" stroke-linecap="butt"/>
<text x="85.41" y="775.75" font-size="30.2">40</text>
<line x1="121.70" y1="714.00" x2="130.00" y2="714.00" stroke="#000" stroke-width="3.0" stroke-linecap="butt"/>
<text x="85.41" y="724.35" font-size="30.2">50</text>
<line x1="121.70" y1="662.60" x2="130.00" y2="662.60" stroke="#000" stroke-width="3.0" stroke-linecap="butt"/>
<text x="85.41" y="672.95" font-size="30.2">60</text>
<line x1="187.81" y1="971.00" x2="187.81" y2="979.30" stroke="#000" stroke-width="3.0" stroke-linecap="butt"/>
<line x1="245.62" y1="971.00" x2="245.62" y2="979.30" stroke="#000" stroke-width="3.0" stroke-linecap="butt"/>
<line x1="303.43" y1="971.00" x2="303.43" y2="979.30" stroke="#000" stroke-width="3.0" stroke-linecap="butt"/>
<line x1="361.24" y1="971.00" x2="361.24" y2="979.30" stroke="#000" stroke-width="3.0" stroke-linecap="butt"/>
<line x1="419.05" y1="971.00" x2="419.05" y2="979.30" stroke="#000" stroke-width="3.0" stroke-linecap="butt"/>
<line x1="476.86" y1="971.00" x2="476.86" y2="979.30" stroke="#000" stroke-width="3.0" stroke-linecap="butt"/>
<line x1="534.67" y1="971.00" x2="534.67" y2="979.30" stroke="#000" stroke-width="3.0" stroke-linecap="butt"/>
<line x1="592.48" y1="971.00" x2="592.48" y2="979.30" stroke="#000" stroke-width="3.0" stroke-linecap="butt"/>
<text x="115.88" y="1011.00" font-size="28.6">-2</text>
<text x="173.65" y="1011.00" font-size="28.6">-1</text>
<text x="237.65" y="1011.00" font-size="28.6">0</text>
<text x="295.10" y="1011.00" font-size="28.6">1</text>
<text x="353.30" y="1011.00" font-size="28.6">2</text>
<text x="411.19" y="1011.00" font-size="28.6">3</text>
<text x="469.00" y="1011.00" font-size="28.6">4</text>
<text x="526.73" y="1011.00" font-size="28.6">5</text>
<text x="584.44" y="1011.00" font-size="28.6">6</text>
<text x="145.62" y="1043.40" font-size="29.35">mAb concentration (log10 ng/mL)</text>
<g transform="translate(67.20,941.45) rotate(-90)"><text x="0" y="0" font-size="29.65">Percent of Infection</text></g>
<polyline points="187.81,954.55 222.50,954.55 257.18,947.36 291.87,878.48 326.55,748.44 361.24,672.88 395.93,665.17 430.61,694.47 465.30,712.97 499.98,804.46 534.67,957.64" fill="none" stroke="#9e6923" stroke-width="3.0" stroke-linejoin="round"/>
<polygon points="187.81,963.05 178.56,946.05 197.06,946.05" fill="#9e6923"/>
<polygon points="222.50,963.05 213.25,946.05 231.75,946.05" fill="#9e6923"/>
<polygon points="257.18,955.86 247.93,938.86 266.43,938.86" fill="#9e6923"/>
<polygon points="291.87,886.98 282.62,869.98 301.12,869.98" fill="#9e6923"/>
<polygon points="326.55,756.94 317.30,739.94 335.80,739.94" fill="#9e6923"/>
<polygon points="361.24,681.38 351.99,664.38 370.49,664.38" fill="#9e6923"/>
<polygon points="395.93,673.67 386.68,656.67 405.18,656.67" fill="#9e6923"/>
<polygon points="430.61,702.97 421.36,685.97 439.86,685.97" fill="#9e6923"/>
<polygon points="465.30,721.47 456.05,704.47 474.55,704.47" fill="#9e6923"/>
<polygon points="499.98,812.96 490.73,795.96 509.23,795.96" fill="#9e6923"/>
<polyline points="187.81,956.61 222.50,956.61 257.18,957.12 291.87,956.09 326.55,952.50 361.24,876.94 395.93,862.03 430.61,923.20 465.30,964.83 499.98,969.46 534.67,969.97" fill="none" stroke="#a50303" stroke-width="3.0" stroke-linejoin="round"/>
<polygon points="187.81,948.11 178.56,965.11 197.06,965.11" fill="#a50303"/>
<polygon points="222.50,948.11 213.25,965.11 231.75,965.11" fill="#a50303"/>
<polygon points="257.18,948.62 247.93,965.62 266.43,965.62" fill="#a50303"/>
<polygon points="291.87,947.59 282.62,964.59 301.12,964.59" fill="#a50303"/>
<polygon points="326.55,944.00 317.30,961.00 335.80,961.00" fill="#a50303"/>
<polygon points="361.24,868.44 351.99,885.44 370.49,885.44" fill="#a50303"/>
<polygon points="395.93,853.53 386.68,870.53 405.18,870.53" fill="#a50303"/>
<polygon points="430.61,914.70 421.36,931.70 439.86,931.70" fill="#a50303"/>
<polygon points="465.30,956.33 456.05,973.33 474.55,973.33" fill="#a50303"/>
<polygon points="499.98,960.96 490.73,977.96 509.23,977.96" fill="#a50303"/>
<polygon points="534.67,961.47 525.42,978.47 543.92,978.47" fill="#a50303"/>
<polyline points="187.81,915.18 222.50,932.45 257.18,937.08 291.87,910.86 326.55,815.77 361.24,771.57 395.93,775.68 430.61,810.12 465.30,943.24 499.98,964.83 534.67,968.94" fill="none" stroke="#046104" stroke-width="3.0" stroke-linejoin="round"/>
<rect x="178.71" y="906.08" width="18.2" height="18.2" fill="#046104"/>
<rect x="213.40" y="923.35" width="18.2" height="18.2" fill="#046104"/>
<rect x="248.08" y="927.98" width="18.2" height="18.2" fill="#046104"/>
<rect x="282.77" y="901.76" width="18.2" height="18.2" fill="#046104"/>
<rect x="317.45" y="806.67" width="18.2" height="18.2" fill="#046104"/>
<rect x="352.14" y="762.47" width="18.2" height="18.2" fill="#046104"/>
<rect x="386.83" y="766.58" width="18.2" height="18.2" fill="#046104"/>
<rect x="421.51" y="801.02" width="18.2" height="18.2" fill="#046104"/>
<rect x="456.20" y="934.14" width="18.2" height="18.2" fill="#046104"/>
<rect x="490.88" y="955.73" width="18.2" height="18.2" fill="#046104"/>
<rect x="525.57" y="959.84" width="18.2" height="18.2" fill="#046104"/>
<polyline points="187.81,969.82 222.50,969.05 257.18,969.46 291.87,969.05 326.55,966.63 361.24,928.08 395.93,798.81 430.61,764.37 465.30,767.97 499.98,809.09 534.67,957.64" fill="none" stroke="#03038a" stroke-width="3.0" stroke-linejoin="round"/>
<circle cx="187.81" cy="969.82" r="8.9" fill="#03038a"/>
<circle cx="222.50" cy="969.05" r="8.9" fill="#03038a"/>
<circle cx="257.18" cy="969.46" r="8.9" fill="#03038a"/>
<circle cx="291.87" cy="969.05" r="8.9" fill="#03038a"/>
<circle cx="326.55" cy="966.63" r="8.9" fill="#03038a"/>
<circle cx="361.24" cy="928.08" r="8.9" fill="#03038a"/>
<circle cx="395.93" cy="798.81" r="8.9" fill="#03038a"/>
<circle cx="430.61" cy="764.37" r="8.9" fill="#03038a"/>
<circle cx="465.30" cy="767.97" r="8.9" fill="#03038a"/>
<circle cx="499.98" cy="809.09" r="8.9" fill="#03038a"/>
<circle cx="534.67" cy="957.64" r="8.9" fill="#03038a"/>
<line x1="145.30" y1="665.10" x2="178.10" y2="665.10" stroke="#03038a" stroke-width="3" stroke-linecap="butt"/>
<circle cx="161.80" cy="665.10" r="9.0" fill="#03038a"/>
<text x="196.21" y="676.10" font-size="29.0">DENV1</text>
<line x1="145.30" y1="700.90" x2="178.10" y2="700.90" stroke="#046104" stroke-width="3" stroke-linecap="butt"/>
<rect x="152.50" y="691.60" width="18.6" height="18.6" fill="#046104"/>
<text x="196.21" y="711.40" font-size="29.0">DENV2</text>
<line x1="145.30" y1="736.30" x2="178.10" y2="736.30" stroke="#a50303" stroke-width="3" stroke-linecap="butt"/>
<polygon points="162.10,728.00 152.90,745.40 171.30,745.40" fill="#a50303"/>
<text x="196.21" y="746.70" font-size="29.0">DENV3</text>
<line x1="145.30" y1="771.30" x2="178.10" y2="771.30" stroke="#9e6923" stroke-width="3" stroke-linecap="butt"/>
<polygon points="162.10,780.10 152.90,761.90 171.30,761.90" fill="#9e6923"/>
<text x="196.21" y="782.00" font-size="29.0">DENV4</text>
</svg>
</body></html>
